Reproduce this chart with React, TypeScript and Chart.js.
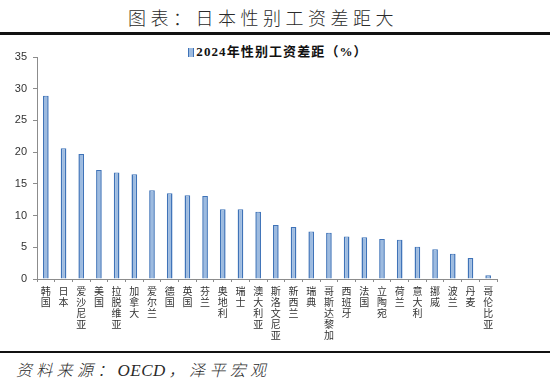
import React, { useEffect, useRef } from "react";
import { Chart, registerables } from "chart.js";

Chart.register(...registerables);

const categories: string[] = [
  "韩国", "日本", "爱沙尼亚", "美国", "拉脱维亚", "加拿大", "爱尔兰", "德国", "英国", "芬兰",
  "奥地利", "瑞士", "澳大利亚", "斯洛文尼亚", "新西兰", "瑞典", "哥斯达黎加", "西班牙", "法国",
  "立陶宛", "荷兰", "意大利", "挪威", "波兰", "丹麦", "哥伦比亚",
];
const gapValues: number[] = [
  28.9, 20.6, 19.7, 17.2, 16.8, 16.5, 14.0, 13.5, 13.2, 13.1,
  11.0, 11.0, 10.6, 8.5, 8.2, 7.5, 7.3, 6.7, 6.6, 6.3, 6.2, 5.1, 4.7, 4.0, 3.3, 0.6,
];
const seriesName = "2024年性别工资差距（%）";
const yTicks = { min: 0, max: 35, step: 5 };
const titleText = "图表：日本性别工资差距大";
const sourceParts = ["资料来源：", "OECD", "，泽平宏观"];

export default function App() {
  const canvasRef = useRef<HTMLCanvasElement | null>(null);

  useEffect(() => {
    const canvas = canvasRef.current;
    if (!canvas) return;
    const chart = new Chart(canvas, {
      type: "bar",
      data: {
        labels: categories.map((c) => c.split("")),
        datasets: [
          {
            label: seriesName,
            data: gapValues,
            backgroundColor: "#9dbbe0",
            borderColor: "#3f73b8",
            borderWidth: { left: 1.5, right: 1.5, top: 1, bottom: 0 },
            borderSkipped: "bottom",
            barPercentage: 0.32,
            categoryPercentage: 1,
          },
        ],
      },
      options: {
        animation: false,
        responsive: false,
        maintainAspectRatio: false,
        layout: { padding: { left: 0, right: 53, top: 17, bottom: 1 } },
        plugins: {
          legend: { display: false },
          tooltip: { enabled: false },
        },
        scales: {
          x: {
            grid: {
              drawOnChartArea: false,
              drawTicks: true,
              tickLength: 3,
              color: "#8c8c8c",
              offset: true,
            },
            border: { display: true, color: "#8c8c8c" },
            ticks: {
              autoSkip: false,
              maxRotation: 0,
              minRotation: 0,
              padding: 4,
              color: "#333",
              font: { family: "'Noto Sans CJK SC'", size: 10, lineHeight: 1.1 },
            },
            afterFit: (scale: any) => {
              scale.height = 70;
            },
          },
          y: {
            min: yTicks.min,
            max: yTicks.max,
            grid: {
              drawOnChartArea: false,
              drawTicks: true,
              tickLength: 4,
              color: "#8c8c8c",
            },
            border: { display: true, color: "#8c8c8c" },
            ticks: {
              stepSize: yTicks.step,
              padding: 6,
              color: "#333",
              font: { family: "'Liberation Sans', Arial, sans-serif", size: 11 },
            },
            afterFit: (scale: any) => {
              scale.width = 37;
            },
          },
        },
      },
    });
    return () => chart.destroy();
  }, []);

  return (
    <div
      style={{
        position: "absolute",
        left: 0,
        top: 0,
        width: 550,
        height: 390,
        background: "#fff",
        overflow: "hidden",
      }}
    >
      <div
        style={{
          position: "absolute",
          left: 0,
          top: 4,
          width: 526,
          textAlign: "center",
          fontFamily: "'Noto Sans CJK SC'",
          fontWeight: 300,
          fontSize: 18,
          letterSpacing: 4.5,
          color: "#2a2a2a",
          lineHeight: "26px",
        }}
      >
        {titleText}
      </div>
      <div style={{ position: "absolute", left: 0, top: 32, width: 550, height: 3, background: "#111" }} />
      <div
        style={{
          position: "absolute",
          left: 0,
          top: 44,
          width: 556,
          textAlign: "center",
          fontSize: 13,
          fontWeight: "bold",
          color: "#111",
          lineHeight: "16px",
          letterSpacing: 1.1,
          whiteSpace: "nowrap",
          fontFamily: "'Liberation Serif', 'Noto Sans CJK SC', serif",
        }}
      >
        <span
          style={{
            display: "inline-block",
            width: 4,
            height: 9,
            background: "#9dbbe0",
            borderLeft: "1px solid #3f73b8",
            borderRight: "1px solid #3f73b8",
            marginRight: 2,
            verticalAlign: "-1px",
          }}
        />
        {seriesName}
      </div>
      <canvas
        ref={canvasRef}
        width={550}
        height={310}
        style={{ position: "absolute", left: 0, top: 40, width: 550, height: 310 }}
      />
      <div style={{ position: "absolute", left: 0, top: 351, width: 550, height: 2, background: "#111" }} />
      <div
        style={{
          position: "absolute",
          left: 16,
          top: 358,
          fontFamily: "'Noto Sans CJK SC'",
          fontWeight: 300,
          fontStyle: "italic",
          fontSize: 16,
          letterSpacing: 4.3,
          color: "#2a2a2a",
          lineHeight: "22px",
          whiteSpace: "nowrap",
        }}
      >
        {sourceParts[0]}
        <span
          style={{
            fontFamily: "'Liberation Serif', serif",
            fontWeight: 400,
            fontSize: 17,
            letterSpacing: 0.5,
            marginRight: 3,
          }}
        >
          {sourceParts[1]}
        </span>
        {sourceParts[2]}
      </div>
    </div>
  );
}
